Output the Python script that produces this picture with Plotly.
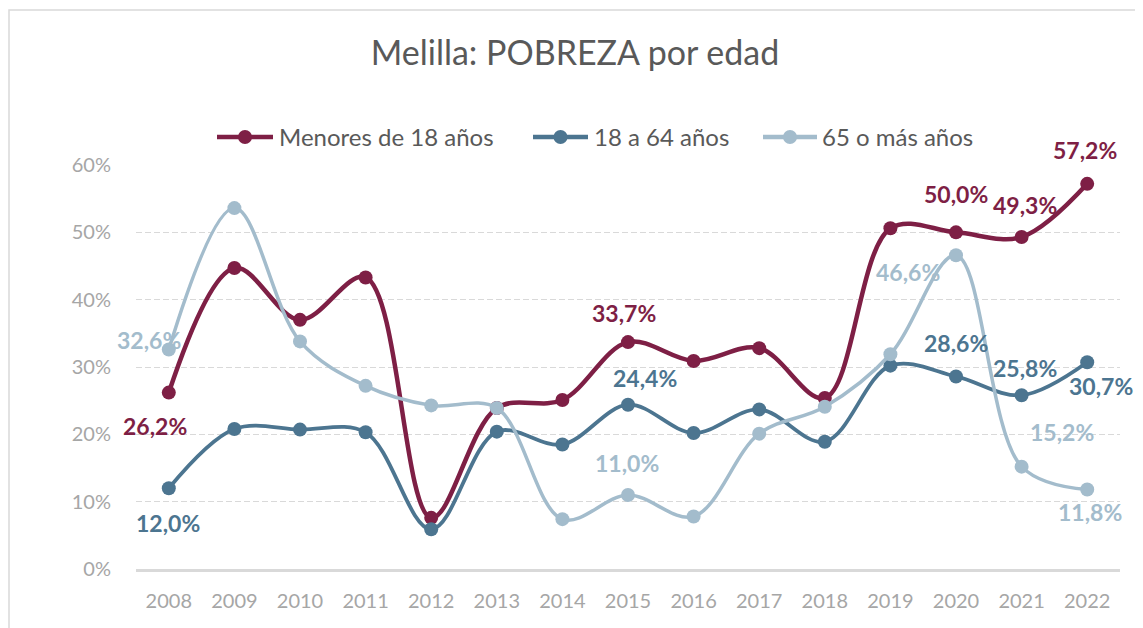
import plotly.graph_objects as go

years = ["2008", "2009", "2010", "2011", "2012", "2013", "2014", "2015",
         "2016", "2017", "2018", "2019", "2020", "2021", "2022"]
menores = [26.2, 44.7, 37.0, 43.3, 7.6, 23.9, 25.1, 33.7, 30.9, 32.8, 25.4, 50.6, 50.0, 49.3, 57.2]
adultos = [12.0, 20.8, 20.7, 20.3, 5.9, 20.4, 18.5, 24.4, 20.2, 23.7, 18.9, 30.2, 28.6, 25.8, 30.7]
mayores = [32.6, 53.6, 33.8, 27.2, 24.3, 23.9, 7.4, 11.0, 7.8, 20.1, 24.1, 31.9, 46.6, 15.2, 11.8]
series_names = ["Menores de 18 años", "18 a 64 años", "65 o más años"]
y_ticks = [0, 10, 20, 30, 40, 50, 60]
y_tick_labels = ["0%", "10%", "20%", "30%", "40%", "50%", "60%"]

# which points carry a data label (by year) per series
label_years = [
    ["2008", "2015", "2020", "2021", "2022"],
    ["2008", "2015", "2020", "2021", "2022"],
    ["2008", "2015", "2020", "2021", "2022"],
]

# ---- style ----
colors = ["#7E1F45", "#4C7590", "#A3BCCC"]
widths = [4.5, 3.8, 3.5]
label_offsets = [
    {"2008": (-14, -33), "2015": (-4, 29), "2020": (0, 38), "2021": (3, 32), "2022": (-2, 34)},
    {"2008": (-1, -35), "2015": (17, 27), "2020": (0, 33), "2021": (3, 27), "2022": (14, -24)},
    {"2008": (-20, 9), "2015": (-1, 32), "2020": (-48, -17), "2021": (40, 35), "2022": (3, -22)},
]
# legend geometry in window pixels: (line start, line end, text start)
legend_geom = [(217, 273, 277), (533, 588, 592), (763, 817, 820)]
legend_y = 137

FONT = "Lato, 'Open Sans', sans-serif"

# page body has an 8px margin: window pixel -> figure pixel
OFF = 8
W, H = 1143, 628
L, R, T, B = 136 - OFF, W - (1120 - OFF), 165 - OFF, H - (569 - OFF)
pw, ph = W - L - R, H - T - B


def px_x(p):
    return (p - OFF - L) / pw


def px_y(p):
    return (H - B - (p - OFF)) / ph


fig = go.Figure()
all_vals = [menores, adultos, mayores]
for name, vals, col, w in zip(series_names, all_vals, colors, widths):
    fig.add_trace(go.Scatter(
        x=years, y=vals, name=name, mode="lines+markers",
        line=dict(color=col, width=w, shape="spline", smoothing=1.0),
        marker=dict(color=col, size=14),
        cliponaxis=False, showlegend=False,
    ))

annotations = []
for i, vals in enumerate(all_vals):
    for yr in label_years[i]:
        idx = years.index(yr)
        v = vals[idx]
        dx, dy = label_offsets[i][yr]
        annotations.append(dict(
            x=idx, y=v, xref="x", yref="y",
            text="<b>" + f"{v:.1f}%".replace(".", ",") + "</b>",
            showarrow=False, xshift=dx, yshift=dy,
            font=dict(family=FONT, size=23, color=colors[i]),
        ))

shapes = [dict(type="rect", xref="paper", yref="paper",
               x0=px_x(9), x1=px_x(1136), y0=px_y(650), y1=px_y(10),
               line=dict(color="#D9D9D9", width=1.5), layer="below")]

# manual legend
for (x0, x1, xt), name, col in zip(legend_geom, series_names, colors):
    yy = px_y(legend_y)
    shapes.append(dict(type="line", xref="paper", yref="paper",
                       x0=px_x(x0), x1=px_x(x1), y0=yy, y1=yy,
                       line=dict(color=col, width=4.5)))
    shapes.append(dict(type="circle", xref="paper", yref="paper",
                       xsizemode="pixel", ysizemode="pixel",
                       xanchor=px_x((x0 + x1) / 2), yanchor=yy,
                       x0=-7, x1=7, y0=-7, y1=7,
                       fillcolor=col, line=dict(color=col, width=0)))
    annotations.append(dict(x=px_x(xt), y=yy, xref="paper", yref="paper",
                            xanchor="left", yanchor="middle", showarrow=False,
                            text=name,
                            font=dict(family=FONT, size=24, color="#595959")))

fig.update_layout(
    width=W, height=H,
    margin=dict(l=L, r=R, t=T, b=B),
    paper_bgcolor="white", plot_bgcolor="white",
    font=dict(family=FONT, color="#595959"),
    title=dict(text="Melilla: POBREZA por edad", x=(575 - OFF) / W, xanchor="center",
               y=1 - (53 - OFF) / H, yanchor="middle",
               font=dict(family=FONT, size=34, color="#595959")),
    showlegend=False,
    annotations=annotations,
    shapes=shapes,
)
fig.update_xaxes(type="category", range=[-0.5, 14.5], showgrid=False,
                 showline=True, linecolor="#D9D9D9", linewidth=3,
                 ticks="outside", ticklen=12, tickcolor="rgba(0,0,0,0)",
                 tickfont=dict(family=FONT, size=20, color="#A6A6A6"),
                 fixedrange=True)
fig.update_yaxes(range=[0, 60], tickmode="array", tickvals=y_ticks, ticktext=y_tick_labels,
                 showgrid=True, gridcolor="#D9D9D9", gridwidth=1.3,
                 griddash="6px,3px", zeroline=False, showline=False,
                 ticks="outside", ticklen=20, tickcolor="rgba(0,0,0,0)",
                 tickfont=dict(family=FONT, size=20, color="#A6A6A6"),
                 fixedrange=True)

fig.write_html("out.html")
